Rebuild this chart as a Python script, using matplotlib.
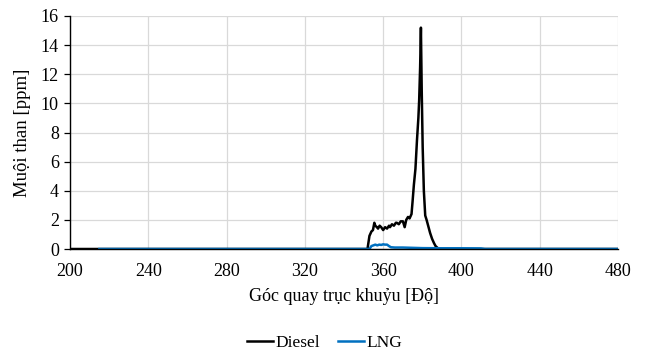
"""Nồng độ muội than theo góc quay trục khuỷu: Diesel và LNG."""

import matplotlib.pyplot as plt

plt.rcParams["font.family"] = ["Liberation Serif", "DejaVu Serif"]

# Diesel: 0 cho tới ~352 độ, sau đó đỉnh nhọn quanh 379 độ
diesel_angle = [200, 300, 352.0, 353.0, 354.0, 354.8, 355.5, 356.0, 356.8, 357.4,
                358.2, 359.0, 360.0, 361.0, 362.0, 363.0, 363.5, 364.5, 365.5, 366.5,
                367.0, 368.0, 369.0, 370.1, 371.0, 371.8, 372.7, 373.5, 374.5, 375.0,
                375.7, 376.5, 377.3, 378.0, 378.4, 378.9, 379.3, 379.7, 380.2, 380.8,
                381.5, 382.2, 383.0, 384.0, 385.0, 386.0, 386.8, 388.0, 389.0, 400,
                440, 480]
diesel_ppm = [0, 0, 0, 0.9, 1.2, 1.3, 1.8, 1.6, 1.5, 1.4,
              1.6, 1.5, 1.3, 1.5, 1.4, 1.6, 1.5, 1.7, 1.6, 1.8,
              1.8, 1.7, 1.9, 1.9, 1.5, 2.0, 2.2, 2.1, 2.4, 3.2,
              4.4, 5.5, 7.5, 9.0, 10.2, 12.5, 15.2, 11.0, 7.0, 4.0,
              2.3, 2.0, 1.6, 1.1, 0.7, 0.4, 0.2, 0.05, 0, 0,
              0, 0]

# LNG: gần như bằng 0, chỉ nhô nhẹ quanh 355-363 độ
lng_angle = [215, 300, 353.0, 354.0, 355.0, 356.0, 357.0, 358.0, 359.0, 360.0,
             361.0, 362.0, 363.0, 364.0, 366.0, 370.0, 375.0, 380.0, 390.0, 400.0,
             410.0, 412.0, 440, 480]
lng_ppm = [0, 0, 0, 0.2, 0.25, 0.3, 0.25, 0.3, 0.28, 0.32,
           0.3, 0.3, 0.2, 0.12, 0.1, 0.1, 0.08, 0.06, 0.05, 0.05,
           0.04, 0, 0, 0]

X_TICKS = list(range(200, 481, 40))
Y_TICKS = list(range(0, 17, 2))

fig = plt.figure(figsize=(6.49, 3.51), dpi=100)
ax = fig.add_axes([70 / 649, 1 - 249 / 351, (618 - 70) / 649, (249 - 16) / 351])

ax.plot(diesel_angle, diesel_ppm, color="black", linewidth=1.8, label="Diesel")
ax.plot(lng_angle, lng_ppm, color="#0070C0", linewidth=1.8, label="LNG")

ax.set_xlim(200, 480)
ax.set_ylim(0, 16)
ax.set_xticks(X_TICKS)
ax.set_yticks(Y_TICKS)
ax.grid(color="#d9d9d9", linewidth=0.9)
ax.set_axisbelow(True)
for side in ("top", "right"):
    ax.spines[side].set_visible(False)
for side in ("left", "bottom"):
    ax.spines[side].set_linewidth(1.0)
ax.tick_params(axis="y", direction="out", length=4, width=0.9, labelsize=13, pad=4)
ax.tick_params(axis="x", length=0, labelsize=13, pad=10)

ax.set_xlabel("Góc quay trục khuỷu [Độ]", fontsize=13, labelpad=6)
ax.set_ylabel("Muội than [ppm]", fontsize=13.5, labelpad=7)

fig.legend(loc="center", bbox_to_anchor=(0.5, 1 - 343 / 351), ncol=2, frameon=False,
           fontsize=12.5, handlelength=1.5, columnspacing=1.0, handletextpad=0.15)

fig.savefig("out.png", dpi=100)
